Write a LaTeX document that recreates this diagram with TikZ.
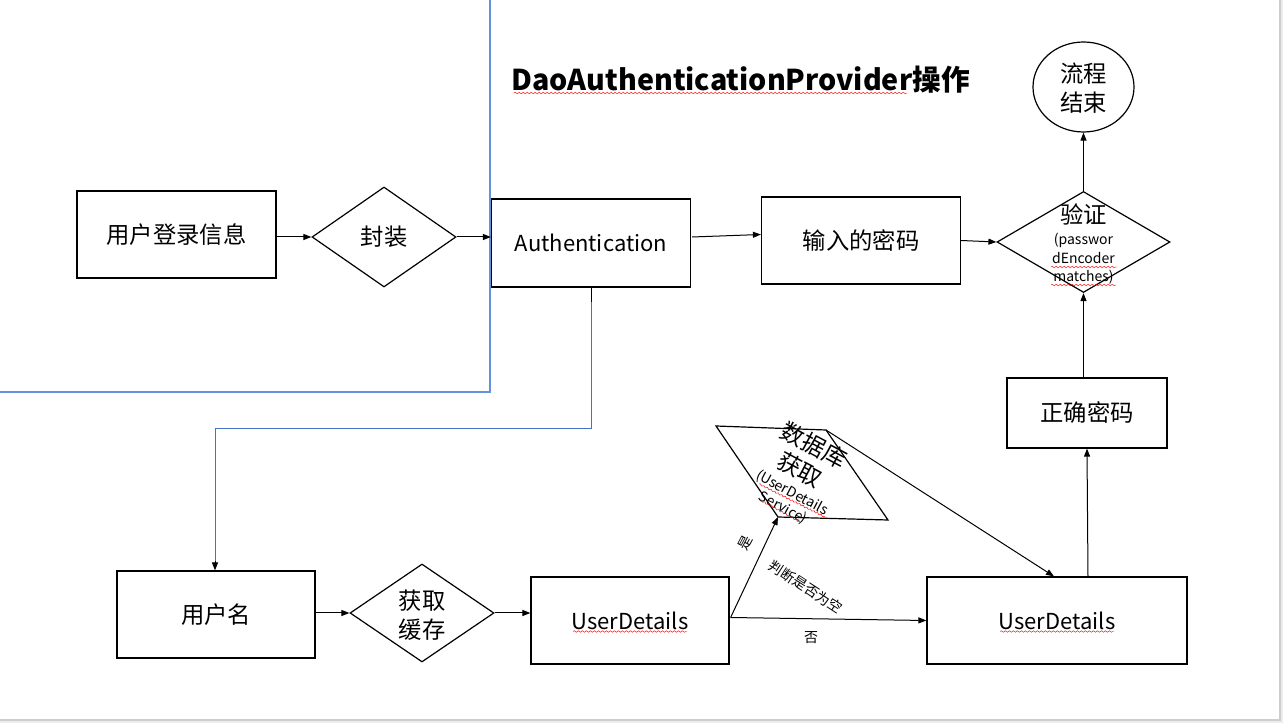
\documentclass[tikz,border=0pt]{standalone}
\usepackage{fontspec}
\setmainfont{Noto Sans CJK SC}
\usetikzlibrary{arrows.meta,shapes.geometric,calc,decorations.pathmorphing}
\newcommand\fBig{\fontsize{17.5pt}{21pt}\selectfont}
\newcommand\fLat{\fontsize{16.5pt}{20pt}\selectfont}
\newcommand\fMidL{\fontsize{17.5pt}{19.5pt}\selectfont}
\newcommand\fSm{\fontsize{10.5pt}{13pt}\selectfont}
\newcommand\fTiny{\fontsize{10.5pt}{13.8pt}\selectfont}
\newcommand\fTitle{\fontsize{21.5pt}{25pt}\selectfont}
\definecolor{boxblue}{RGB}{100,145,220}
\definecolor{linkblue}{RGB}{68,114,196}
\definecolor{framegray}{RGB}{205,205,205}
\definecolor{outgray}{RGB}{236,236,236}
\begin{document}
\begin{tikzpicture}[x=0.75pt,y=-0.75pt,
  wh/.style 2 args={minimum width=#1*0.75pt, minimum height=#2*0.75pt},
  box/.style={draw, rectangle, line width=0.9pt, inner sep=0pt, font=\fBig},
  dia/.style={draw, diamond, line width=0.9pt, inner sep=0pt},
  txt/.style={inner sep=0pt, align=center},
  arr/.style={-{Triangle[length=6pt,width=4.5pt]}, line width=0.75pt},
  squig/.style={draw=red, line width=0.35pt, decorate, decoration={snake, amplitude=0.55pt, segment length=3pt}}]
\useasboundingbox (0,0) rectangle (1283,723);
% window frame
\fill[outgray] (1280,0) rectangle (1283,723);
\fill[outgray] (0,720) rectangle (1283,723);
\draw[framegray, line width=1.2pt] (1280,0) -- (1280,720) -- (0,720);
% blue region lines
\draw[boxblue, line width=0.8pt] (490,0) -- (490,392) -- (0,392);

% title
\node[txt, font=\fTitle\bfseries, anchor=west] (title) at (511,80) {DaoAuthenticationProvider操作};

% top row
\node[box, wh={199}{87}] (login) at (176.5,234.5) {用户登录信息};
\node[dia, wh={144}{100}] (wrap) at (384,237) {};
\node[txt, font=\fBig] (wrapT) at (384,237) {封装};
\node[box, wh={199}{88}, font=\fLat] (auth) at (591,243) {Authentication};
\node[box, wh={199}{87}] (input) at (861,240.5) {输入的密码};
\node[dia, wh={173}{101}] (verify) at (1083.5,242) {};
\node[txt, font=\fBig] (verifyT1) at (1083.5,214) {验证};
\node[txt, font=\fTiny] (verifyT2) at (1083.5,259) {(passwor\\dEncoder\\matches)};
\node[draw, ellipse, line width=0.9pt, wh={101}{90}, inner sep=0pt] (end) at (1083.5,87) {};
\node[txt, font=\fBig] (endT) at (1083.5,88) {流程\\[1pt]结束};
\node[box, wh={160}{70}] (right) at (1087,413) {正确密码};

% bottom row
\node[box, wh={198}{87}] (uname) at (216,614.5) {用户名};
\node[dia, wh={144}{98}] (cache) at (422,613) {};
\node[txt, font=\fBig] (cacheT) at (422,615) {获取\\[1pt]缓存};
\node[box, wh={198}{87}, font=\fLat] (ud1) at (630,620.5) {UserDetails};
\node[box, wh={260}{87}, font=\fLat] (ud2) at (1057,620.5) {UserDetails};

% database parallelogram
\coordinate (dbA) at (716,426);
\coordinate (dbB) at (826,430);
\coordinate (dbC) at (888,520);
\coordinate (dbD) at (778,517);
\draw[line width=0.9pt] (dbA) -- (dbB) -- (dbC) -- (dbD) -- cycle;
\node[txt, rotate=-28, font=\fMidL] (db1) at (814,445) {数据库};
\node[txt, rotate=-28, font=\fMidL] (db2) at (800,470) {获取};
\node[txt, rotate=-28, font=\fTiny] (db3) at (792,493) {(UserDetails};
\node[txt, rotate=-28, font=\fTiny] (db4) at (783,508) {Service)};

% connectors
\draw[arr] (login.east |- wrap.west) -- (wrap.west);
\draw[arr] (wrap.east) -- (wrap.east -| auth.west);
\draw[arr] ($(auth.east)+(1,-6)$) -- ($(input.west)+(0,-6)$);
\draw[arr] (input.east) -- (verify.west);
\draw[arr] (verify.north) -- (end.south);
\draw[arr] (verify.south |- right.north) -- (verify.south);
\draw[arr] ($(ud2.north)+(31,0)$) -- (right.south);
\coordinate (b1) at ($(auth.south)+(0,14)$);
\coordinate (b2) at ($(auth.south)+(0,141)$);
\draw[line width=0.75pt] (auth.south) -- (b1);
\draw[linkblue, line width=0.75pt] (b1) -- (b2) -| ($(uname.north)+(-1,-8)$);
\draw[arr] ($(uname.north)+(-1,-9)$) -- ($(uname.north)+(-1,0)$);
\draw[arr] (uname.east |- cache.west) -- (cache.west);
\draw[arr] (cache.east) -- (cache.east -| ud1.west);
\coordinate (split) at ($(ud1.east)+(1,-3)$);
\draw[arr] (split) -- (ud2.west);
\draw[arr] (split) -- (dbD);
\draw[arr] (dbB) -- ($(ud2.north)+(-3,0)$);

% labels
\node[txt, font=\fSm, rotate=62] (yes) at (745,543) {是};
\node[txt, font=\fSm, rotate=-33] (judge) at (806,587) {判断是否为空};
\node[txt, font=\fSm] (no) at (811,638) {否};

% spell-check squiggles
\draw[squig] (514,93) -- (907,93);
\draw[squig] ($(ud1.center)+(-57,11)$) -- ($(ud1.center)+(57,11)$);
\draw[squig] ($(ud2.center)+(-57,11)$) -- ($(ud2.center)+(57,11)$);
\draw[squig] (1051,267) -- (1117,267);
\draw[squig] (1051,285) -- (1116,285);
\draw[squig] (759,484) -- (825,517);
\draw[squig] (760,500) -- (800,522);
\end{tikzpicture}
\end{document}
